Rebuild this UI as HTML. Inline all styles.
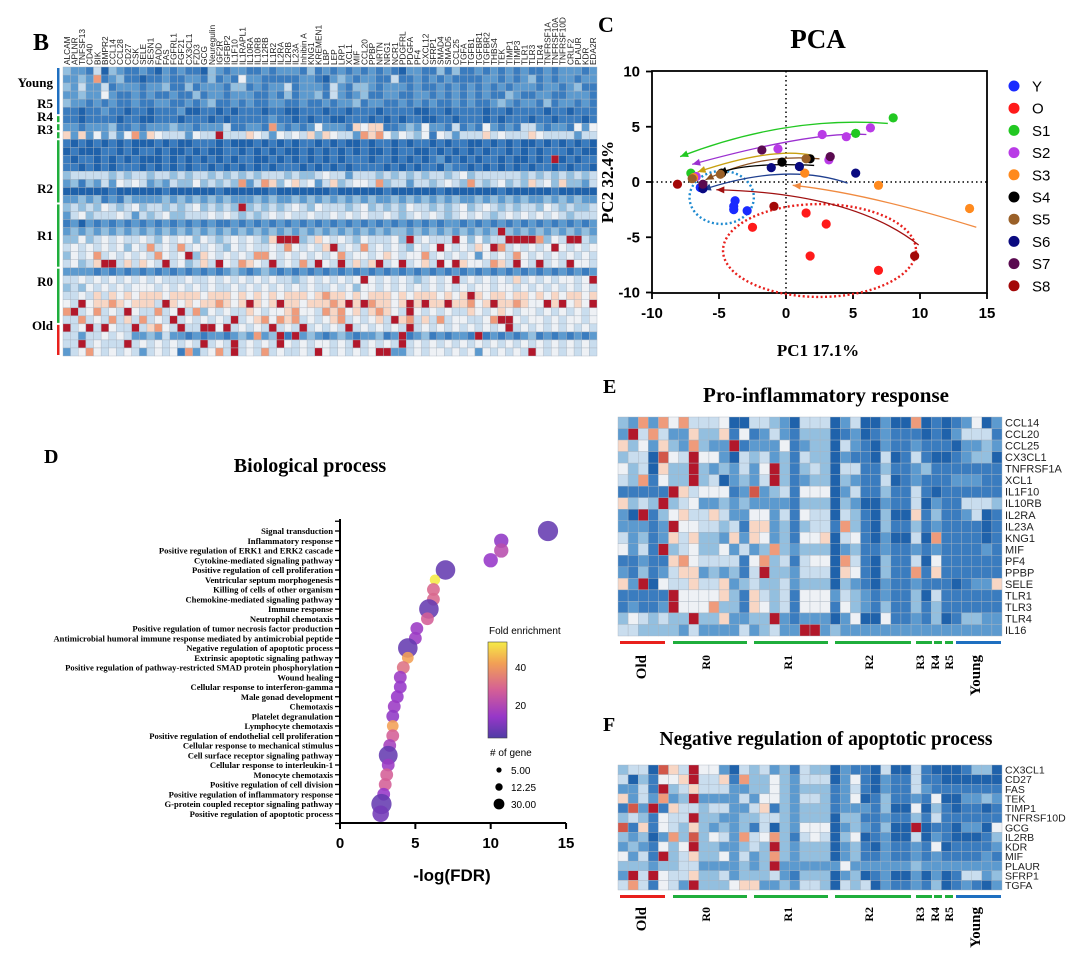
<!DOCTYPE html>
<html><head><meta charset="utf-8"><style>
html,body{margin:0;padding:0;background:#fff;}
svg{display:block;}
.serif{font-family:"Liberation Serif",serif;font-weight:bold;}
.sans{font-family:"Liberation Sans",sans-serif;}
</style></head><body>
<svg id="fig" width="1078" height="957" viewBox="0 0 1078 957" xmlns="http://www.w3.org/2000/svg">
<g id="panelB"></g>
<g id="panelC"></g>
<g id="panelD"></g>
<g id="panelE"></g>
<g id="panelF"></g>
</svg>
<script>
// ---------- DATA ----------
const bGenes=["ALCAM","APLNR","TNFSF13","CD40","BIK","BMPR2","CCL14","CCL28","CD27","CSK","SELE","SESN1","FADD","FAS","FGFRL1","FGF21","CX3CL1","FZD3","GCG","Neuregulin","IGF2R","IGFBP2","IL1F10","IL1RAPL1","IL10RA","IL10RB","IL12RB","IL1R2","IL2RA","IL2RB","IL23A","Inhibin A","KNG1","KREMEN1","LBP","LEP","LRP1","XCL1","MIF","CCL20","PPBP","NRTN","NRG1","NCR1","PDGFRL","PDGFA","PF4","CXCL12","SFRP1","SMAD4","SMAD5","CCL25","TGFA","TGFB1","TGFBR1","TGFBR2","THBS4","TEK","TIMP1","TIMP3","TLR1","TLR3","TLR4","TNFRSF1A","TNFRSF10A","TNFRSF10D","CRLF2","PLAUR","KDR","EDA2R"];
const bRows=[
"3221403211210212110321221121222131212121212102211313112121212112122212",
"2232712311011211221312152211111221023212211411212121111221212312122122",
"3242241222122311312221331212241222142133212221211212121212122212212311",
"2232252112121121131221222112131223142123112211221212121211321122112221",
"3221212112112211212311212112211211212231221121212112121123212213122121",
"1101121101101112001101011101100111011011101111001101111011011110110111",
"1101111011001110111010111112110101100111010101100110111010111011011101",
"2212223112122232212224112217212125222165661123252214121521214421221525",
"6262524257265444254484446542545463654427675354351542444645444654444244",
"1010101010001010011101000101010110101001011010110101100101010010101010",
"0100011010110100101001101010100101010101001011001010101011010101110100",
"1011010101000101010101011001010101010111011010101201010110100101801011",
"1101010111010101011010101010111010101011110101011021101010101011010110",
"3444443434434434344343434344434334544244434343434434534444443434343434",
"2313242545423243353434372476356452463455473442443454374345343645363324",
"0000001000000100000010000001000000010000001000000100000001000000100000",
"2232312132222323232323222323223232323232322323232323223232323223232322",
"3434354345344343453434383434345435444345343435443434534543434435434334",
"2453444542434533444545434345454454454545445434545434545434545454543444",
"1202121212121212121211212121212121212121212121212122121212121212121212",
"2323232323232323232323232323232323232323232332323232323238323232323232",
"3353454544543545535434545436888346545435444538454448535344888873548843",
"4545454535474547454543545445475454684547454543545854546587454545854545",
"3545745454547545836545454775454545457455456545574545452545475454545454",
"4534688464654845346485476548454748548464684584564858655476485484548554",
"2222121212121212121212321232121212121212121212121212121212121212121212",
"4454545454545444544545454545443454545458545454345458454545464545455458",
"3435454545554545454544545454545454454535545454545454545545545454545454",
"4454646565666566665666565656566656766565666565666565686566566565656656",
"5485667656664865656676568656866566676868766568686686675686676558685658",
"7845745485447458473545446545567554767564676548545454465456545545454545",
"4474547464745484545454845675767454567454564867464745544578854554545545",
"8458485448467548448858454548454845454845454548454545454545845454545454",
"4424454542232422121221232723818232123212231281231212218121212312121212",
"4484544484545454548454845454854545545484545484545454545454545454545454",
"2457545454245451724574845474544548545454588224545545452545454854545454"];
const bGroups=["Young","R5","R4","R3","R2","R1","R0","Old"];
const bGroupRows=[[0,5],[6,6],[7,7],[8,8],[9,16],[17,24],[25,31],[32,35]];

const pcaGroups=["Y","O","S1","S2","S3","S4","S5","S6","S7","S8"];
const pcaColors=["#1a2bff","#ff1a1a","#22c822","#b93be6","#ff8a1e","#000000","#9a6028","#0a0a80","#5a0a50","#a30808"];
const pcaX=[[-6.4,-6.2,-3.8,-3.9,-3.9,-2.9],[-2.5,1.5,3.0,1.8,6.9],[8.0,5.2,-7.1],[6.3,2.7,4.5,-0.6,3.2,-6.7],[13.7,6.9,1.4,-6.9],[-0.3,1.8,-4.8],[1.5,-4.9,-7.0],[5.2,-1.1,1.0,-6.2],[-1.8,3.3,-6.2],[-8.1,-0.9,9.6]];
const pcaY=[[-0.5,-0.6,-1.7,-2.5,-2.2,-2.6],[-4.1,-2.8,-3.8,-6.7,-8.0],[5.8,4.4,0.8],[4.9,4.3,4.1,3.0,2.0,0.5],[-2.4,-0.3,0.8,0.4],[1.8,2.1,0.8],[2.1,0.7,0.3],[0.8,1.3,1.4,-0.6],[2.9,2.3,-0.2],[-0.2,-2.2,-6.7]];
const pcaXTicks=[-10,-5,0,5,10,15];
const pcaYTicks=[-10,-5,0,5,10];

const terms=["Signal transduction","Inflammatory response","Positive regulation of ERK1 and ERK2 cascade","Cytokine-mediated signaling pathway","Positive regulation of cell proliferation","Ventricular septum morphogenesis","Killing of cells of other organism","Chemokine-mediated signaling pathway","Immune response","Neutrophil chemotaxis","Positive regulation of tumor necrosis factor production","Antimicrobial humoral immune response mediated by antimicrobial peptide","Negative regulation of apoptotic process","Extrinsic apoptotic signaling pathway","Positive regulation of pathway-restricted SMAD protein phosphorylation","Wound healing","Cellular response to interferon-gamma","Male gonad development","Chemotaxis","Platelet degranulation","Lymphocyte chemotaxis","Positive regulation of endothelial cell proliferation","Cellular response to mechanical stimulus","Cell surface receptor signaling pathway","Cellular response to interleukin-1","Monocyte chemotaxis","Positive regulation of cell division","Positive regulation of inflammatory response","G-protein coupled receptor signaling pathway","Positive regulation of apoptotic process"];
const negLogFdr=[13.8,10.7,10.7,10.0,7.0,6.3,6.2,6.2,5.9,5.8,5.1,5.0,4.5,4.5,4.2,4.0,4.0,3.8,3.6,3.5,3.5,3.5,3.3,3.2,3.2,3.1,3.0,2.9,2.75,2.7];
const foldEnrichment=[8,14,22,15,8,52,30,30,8,28,16,16,8,42,32,16,15,15,16,14,42,28,18,8,16,28,28,15,8,10];
const geneCount=[30,15,15,15,28,8,12,12,28,12,12,12,28,10,12,12,12,12,12,12,10,12,12,26,12,12,12,12,30,20];
const dXTicks=[0,5,10,15];

const eGenes=["CCL14","CCL20","CCL25","CX3CL1","TNFRSF1A","XCL1","IL1F10","IL10RB","IL2RA","IL23A","KNG1","MIF","PF4","PPBP","SELE","TLR1","TLR3","TLR4","IL16"];
const eRows=[
"32727574445004432044402400200701012502",
"28474226336151242133301201211101024441",
"63526327322812225123304210211211102232",
"34409548552043423143302110401410012330",
"53406338323242583134304411311231111111",
"43715338340232483123303211401211122211",
"11111864555129234155502411311410111111",
"63438345223232222133303200211402114443",
"20813564464225524154404310300613112401",
"22212855443416623134417310311312111101",
"42312646332626523155604510200407111101",
"52418345335242373233302311211212111121",
"11211675444415734145507410311405111111",
"21312466232314833244406510311716111111",
"62805446446234334233303210211211101226",
"11111855556316434155524321211304111111",
"12112855573316534155515321311313111111",
"35434338336223382122202500511213013322",
"44333324222242342288232222222222222222"];
const fGenes=["CX3CL1","CD27","FAS","TEK","TIMP1","TNFRSF10D","GCG","IL2RB","KDR","MIF","PLAUR","SFRP1","TGFA"];
const fRows=[
"34409648552043423143302110400410001330",
"40315568446173353244402510211411000000",
"22418346444223353233312410211421111111",
"62427238222242553244312501311215002232",
"19281644344224613233312221300503101101",
"34315448332233443233303311211314111111",
"91615436323231403255502321300801102205",
"32302739354274573145403501200402100013",
"23215358332234383233302310211215011112",
"52418346335242373233302311211212111121",
"33323344222232382222225222222322222222",
"28485446334233342133302301200202014423",
"47415428333566223244304340211213012102"];
const groupsEF=["Old","R0","R1","R2","R3","R4","R5","Young"];
const groupColorsEF=["#e8201c","#1fae3c","#1fae3c","#1fae3c","#1fae3c","#1fae3c","#1fae3c","#1e6fc0"];

// ---------- HELPERS ----------
const NS="http://www.w3.org/2000/svg";
const PAL=["#1f62ab","#3a7cbf","#5c9acf","#93bfdf","#c9ddee","#eef1f5","#f8d6c4","#ef9b7b","#b2182b","#d2584a"];
function mk(parent,tag,attrs,text){const e=document.createElementNS(NS,tag);for(const k in attrs)e.setAttribute(k,attrs[k]);if(text!==undefined)e.textContent=text;parent.appendChild(e);return e;}

function heatmap(g,x0,y0,w,h,rows,nCols,prefix){
  const rh=h/rows.length, cw=w/nCols;
  rows.forEach((r,ri)=>{
    for(let c=0;c<nCols;c++){
      const v=parseInt(r[c]||"3",10);
      const cell=mk(g,"rect",{x:x0+c*cw,y:y0+ri*rh,width:cw,height:rh,fill:PAL[v],stroke:"#a9b4c0","stroke-width":0.4});
      
      
    }
  });
}

// ---------- PANEL B ----------
(function(){
  const g=document.getElementById("panelB");
  const t=mk(g,"text",{x:33,y:50,class:"serif","font-size":24},"B");
  
  const n=bRows[0].length;
  const x0=63,y0=67,w=534,h=289;
  heatmap(g,x0,y0,w,h,bRows,n,"heatmap-b");
  const cw=w/n, rh=h/bRows.length;
  bGenes.slice(0,n).forEach((gn,i)=>{
    const tx=x0+i*cw+cw/2+3;
    const lab=mk(g,"text",{x:tx,y:65,transform:`rotate(-90 ${tx} 65)`,class:"sans","font-size":8.3,fill:"#222"},gn);
    
  });
  const labelY=[87,108,121,134,193,240,286,330];
  bGroups.forEach((gr,i)=>{
    const [a,b]=bGroupRows[i];
    const col=gr==="Young"?"#1e6fc0":(gr==="Old"?"#e8201c":"#1fae3c");
    const bar=mk(g,"rect",{x:57,y:y0+a*rh+1,width:2.5,height:(b-a+1)*rh-2,fill:col});
    
    const lab=mk(g,"text",{x:53,y:labelY[i],"text-anchor":"end",class:"serif","font-size":13},gr);
    
  });
})();

// ---------- PANEL C (PCA) ----------
(function(){
  const g=document.getElementById("panelC");
  const px=v=>652+(v+10)*13.4, py=v=>182-v*11.05;
  let e=mk(g,"text",{x:598,y:32,class:"serif","font-size":22},"C");
  
  e=mk(g,"text",{x:818,y:48,"text-anchor":"middle",class:"serif","font-size":27},"PCA");
  
  e=mk(g,"rect",{x:652,y:71,width:335,height:222,fill:"none",stroke:"#000","stroke-width":1.8});
  
  e=mk(g,"line",{x1:652,x2:987,y1:py(0),y2:py(0),stroke:"#000","stroke-width":1.5,"stroke-dasharray":"1.5,3"});
  
  e=mk(g,"line",{x1:px(0),x2:px(0),y1:71,y2:293,stroke:"#000","stroke-width":1.5,"stroke-dasharray":"1.5,3"});
  
  pcaXTicks.forEach(v=>{
    mk(g,"line",{x1:px(v),x2:px(v),y1:293,y2:299,stroke:"#000","stroke-width":1.8});
    const l=mk(g,"text",{x:px(v),y:318,"text-anchor":"middle",class:"sans","font-weight":"bold","font-size":15},String(v));
    
  });
  pcaYTicks.forEach(v=>{
    mk(g,"line",{x1:646,x2:652,y1:py(v),y2:py(v),stroke:"#000","stroke-width":1.8});
    const l=mk(g,"text",{x:640,y:py(v)+5,"text-anchor":"end",class:"sans","font-weight":"bold","font-size":15},String(v));
    
  });
  e=mk(g,"text",{x:818,y:356,"text-anchor":"middle",class:"serif","font-size":17},"PC1 17.1%");
  
  e=mk(g,"text",{x:613,y:182,transform:"rotate(-90 613 182)","text-anchor":"middle",class:"serif","font-size":17},"PC2 32.4%");
  
  e=mk(g,"ellipse",{cx:px(2.5),cy:py(-6.2),rx:7.2*13.4,ry:4.2*11.05,fill:"none",stroke:"#e8201c","stroke-width":2.4,"stroke-dasharray":"2,2.5"});
  
  e=mk(g,"ellipse",{cx:px(-4.8),cy:py(-1.4),rx:2.4*13.4,ry:2.4*11.05,fill:"none",stroke:"#1e8ad0","stroke-width":2.4,"stroke-dasharray":"2,2.5"});
  
  const arrows=[[7.6,5.3,0,6.0,-7.9,2.3,"#22c822"],[6.0,4.3,2,4.6,-7.0,1.6,"#9b30d0"],[2.0,2.4,-1,3.2,-6.6,0.9,"#c8a010"],[2.5,2.1,-2,2.6,-6.0,0.2,"#8a5020"],[2.1,1.5,-3,1.8,-5.0,0.8,"#000"],[4.6,-0.1,0,1.8,-6.2,-0.7,"#1f3f8f"],[14.2,-4.1,6,-1.0,0.5,-0.3,"#f08a40"],[9.9,-5.7,5,-1.0,-5.2,-0.7,"#a01010"]];
  arrows.forEach(a=>{
    const [x0,y0,cx,cy,x1,y1,col]=a;
    const p=mk(g,"path",{d:`M${px(x0)},${py(y0)} Q${px(cx)},${py(cy)} ${px(x1)},${py(y1)}`,fill:"none",stroke:col,"stroke-width":1.3});
    
    const ex=px(x1),ey=py(y1),dx=ex-px(cx),dy=ey-py(cy),L=Math.hypot(dx,dy),ux=dx/L,uy=dy/L,s=8;
    const hd=mk(g,"polygon",{points:`${ex},${ey} ${ex-ux*s-uy*3.5},${ey-uy*s+ux*3.5} ${ex-ux*s+uy*3.5},${ey-uy*s-ux*3.5}`,fill:col});
    
  });
  pcaGroups.forEach((gr,gi)=>{
    pcaX[gi].forEach((xv,j)=>{
      const c=mk(g,"circle",{cx:px(xv),cy:py(pcaY[gi][j]),r:4.6,fill:pcaColors[gi]});
      
    });
    const ly=86+gi*22.2;
    const m=mk(g,"circle",{cx:1014,cy:ly,r:5.5,fill:pcaColors[gi]});
    
    const t=mk(g,"text",{x:1032,y:ly+5.5,class:"sans","font-size":15},gr);
    
  });
})();

// ---------- PANEL D ----------
function plasma(v){
  const stops=[[5,[80,60,165]],[15,[150,55,200]],[28,[212,95,150]],[42,[242,160,85]],[52,[245,235,70]]];
  if(v<=stops[0][0])return `rgb(${stops[0][1]})`;
  for(let i=1;i<stops.length;i++){if(v<=stops[i][0]){const t=(v-stops[i-1][0])/(stops[i][0]-stops[i-1][0]);const a=stops[i-1][1],b=stops[i][1];return `rgb(${a.map((x,k)=>Math.round(x+(b[k]-x)*t)).join(",")})`;}}
  return `rgb(${stops[4][1]})`;
}
(function(){
  const g=document.getElementById("panelD");
  const dx=v=>340+v*15.07, ry=i=>531+i*9.75;
  let e=mk(g,"text",{x:44,y:463,class:"serif","font-size":20},"D");
  
  e=mk(g,"text",{x:310,y:472,"text-anchor":"middle",class:"serif","font-size":20},"Biological process");
  
  e=mk(g,"line",{x1:340,x2:340,y1:519,y2:824,stroke:"#000","stroke-width":2});
  
  e=mk(g,"line",{x1:339,x2:566,y1:823,y2:823,stroke:"#000","stroke-width":2});
  
  for(let i=-1;i<=terms.length;i++){mk(g,"line",{x1:335,x2:340,y1:ry(i),y2:ry(i),stroke:"#000","stroke-width":1.3});}
  dXTicks.forEach(v=>{
    mk(g,"line",{x1:dx(v),x2:dx(v),y1:823,y2:829,stroke:"#000","stroke-width":2});
    const l=mk(g,"text",{x:dx(v),y:848,"text-anchor":"middle",class:"sans","font-weight":"bold","font-size":15},String(v));
    
  });
  e=mk(g,"text",{x:452,y:881,"text-anchor":"middle",class:"sans","font-weight":"bold","font-size":17},"-log(FDR)");
  
  terms.forEach((t,i)=>{
    const l=mk(g,"text",{x:333,y:ry(i)+3,"text-anchor":"end",class:"serif","font-size":8.6},t);
    
    const c=mk(g,"circle",{cx:dx(negLogFdr[i]),cy:ry(i),r:1.85*Math.sqrt(geneCount[i]),fill:plasma(foldEnrichment[i]),"fill-opacity":0.88});
    
  });
  const defs=mk(g,"defs",{});
  const lg=mk(defs,"linearGradient",{id:"cbar",x1:0,y1:1,x2:0,y2:0});
  [[0,5],[0.22,15],[0.5,28],[0.78,42],[1,52]].forEach(s=>mk(lg,"stop",{offset:s[0],"stop-color":plasma(s[1])}));
  e=mk(g,"text",{x:489,y:634,class:"sans","font-size":10},"Fold enrichment");
  
  e=mk(g,"rect",{x:488,y:642,width:19,height:96,fill:"url(#cbar)",stroke:"#444","stroke-width":0.6});
  
  e=mk(g,"text",{x:515,y:671,class:"sans","font-size":10},"40");
  e=mk(g,"text",{x:515,y:709,class:"sans","font-size":10},"20");
  e=mk(g,"text",{x:490,y:756,class:"sans","font-size":10},"# of gene");
  
  [["5.00",2.6,770],["12.25",3.7,787],["30.00",5.4,804]].forEach(s=>{
    const c=mk(g,"circle",{cx:499,cy:s[2],r:s[1],fill:"#000"});
    
    const t=mk(g,"text",{x:511,y:s[2]+4,class:"sans","font-size":10},s[0]);
    
  });
})();

// ---------- PANELS E & F ----------
function smallHeat(gid,letter,letterY,title,titleY,y0,h,rows,genes,barY,labY,prefix){
  const g=document.getElementById(gid);
  const x0=618,w=384,n=38;
  let e=mk(g,"text",{x:603,y:letterY,class:"serif","font-size":20},letter);
  
  e=mk(g,"text",{x:826,y:titleY,"text-anchor":"middle",class:"serif","font-size":letter==="E"?21:19.5},title);
  
  heatmap(g,x0,y0,w,h,rows,n,prefix);
  const rh=h/rows.length;
  genes.slice(0,rows.length).forEach((gn,i)=>{
    const l=mk(g,"text",{x:1005,y:y0+i*rh+rh/2+3.8,class:"sans","font-size":rh>11?11:10.5,fill:"#222"},gn);
    
  });
  const barX=[[620,665],[673,747],[754,828],[835,911],[916,932],[934,942],[945,953],[956,1001]];
  const labX=[646,710,792,873,924,939,953,980];
  groupsEF.forEach((gr,i)=>{
    const b=mk(g,"rect",{x:barX[i][0],y:barY,width:barX[i][1]-barX[i][0],height:3,fill:groupColorsEF[i]});
    
    const big=(gr==="Old"||gr==="Young");
    const l=mk(g,"text",{x:labX[i],y:labY,transform:`rotate(-90 ${labX[i]} ${labY})`,"text-anchor":"end",class:"serif","font-size":big?15:12},gr);
    
  });
}
smallHeat("panelE","E",393,"Pro-inflammatory response",402,417,219,eRows,eGenes,641,655,"heatmap-e");
smallHeat("panelF","F",731,"Negative regulation of apoptotic process",745,765,125,fRows,fGenes,895,907,"heatmap-f");
</script>
</body></html>
